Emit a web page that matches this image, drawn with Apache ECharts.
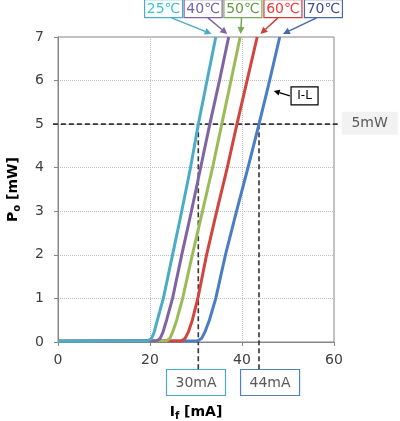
<!DOCTYPE html>
<html>
<head>
<meta charset="utf-8">
<script src="https://cdn.jsdelivr.net/npm/echarts@6/dist/echarts.min.js"></script>
<style>
  html, body { margin: 0; padding: 0; background: #fff; }
  #chart { width: 400px; height: 421px; }
</style>
</head>
<body>
<div id="chart"></div>
<script>
// I-L curves: If [mA] -> Po [mW], one per case temperature
const curve25 = [[0, 0.02], [19.6, 0.03], [20.3, 0.08], [20.9, 0.22], [21.6, 0.5], [22.9, 1], [24.9, 2], [26.9, 3], [28.8, 4], [30.5, 5], [32.4, 6], [34.3, 7]]
const curve40 = [[0, 0.02], [21.5, 0.03], [22.2, 0.08], [22.8, 0.22], [23.6, 0.5], [24.9, 1], [26.9, 2], [29.0, 3], [31.0, 4], [33.0, 5], [35.1, 6], [37.1, 7]]
const curve50 = [[0, 0.02], [23.6, 0.03], [24.3, 0.08], [24.9, 0.22], [25.8, 0.5], [27.1, 1], [29.2, 2], [31.4, 3], [33.6, 4], [35.6, 5], [37.6, 6], [39.6, 7]]
const curve60 = [[0, 0.02], [26.9, 0.03], [27.6, 0.08], [28.3, 0.22], [29.2, 0.5], [30.4, 1], [32.3, 2], [34.5, 3], [36.8, 4], [38.9, 5], [41.1, 6], [43.3, 7]]
const curve70 = [[0, 0.02], [30.4, 0.03], [31.2, 0.08], [31.9, 0.22], [32.9, 0.5], [34.3, 1], [36.4, 2], [38.8, 3], [41.3, 4], [43.7, 5], [46.0, 6], [48.2, 7]]

const temps = ['25℃', '40℃', '50℃', '60℃', '70℃']
const curves = [curve25, curve40, curve50, curve60, curve70]
const lineColors = ['#4bacc6', '#8064a2', '#9bbb59', '#d2453f', '#4a7dc4']
const tagTextColors = ['#3cc3c8', '#7463a0', '#5f9b45', '#e83a3a', '#3d4a9a']
const tagBorderColors = ['#4bacc6', '#8064a2', '#79a856', '#c9403c', '#4a68b0']

// temperature tags above the plot, and their arrows (data units)
const tagX = [22.95, 31.55, 40.2, 48.9, 57.7]
const tagY = 7.65
const arrowFromX = [24.7, 32.6, 39.9, 47.8, 56.2]
const arrowFromY = 7.44
const arrowToX = [33.4, 36.8, 39.7, 44.0, 48.9]
const arrowToY = 7.07

// 5mW reference
const refPower = 5
const refPowerLine = [-1.1, 60.8]
const refPowerTag = [67.75, 5.02]
const refCurrents = [30.5, 43.7]
const refCurrentTags = ['30mA', '44mA']
const refCurrentTagX = [30.0, 46.1]
const refCurrentTagColors = ['#4bacc6', '#4f81bd']
const refTagY = -0.93
const refLineBottom = -0.63

// I-L callout
const ilTag = [53.6, 5.65]
const ilArrowFrom = [50.4, 5.65]
const ilArrowTo = [46.9, 5.76]

const font = 'DejaVu Sans'
const axisColor = '#868686'

const chart = echarts.init(document.getElementById('chart'))

const series = []
for (let i = curves.length - 1; i >= 0; i--) {
  series.push({
    name: temps[i],
    type: 'line',
    data: curves[i],
    showSymbol: false,
    smooth: false,
    lineStyle: { color: lineColors[i], width: 3, join: 'round' },
    itemStyle: { color: lineColors[i] },
    z: 3
  })
}

const nameRich = {
  b: { fontSize: 14, fontWeight: 'bold', fontFamily: font, color: '#000', lineHeight: 18 },
  s: { fontSize: 10, fontWeight: 'bold', fontFamily: font, color: '#000', lineHeight: 12, verticalAlign: 'bottom' }
}

chart.setOption({
  animation: false,
  grid: {
    left: 58, right: 66, top: 37, bottom: 79,
    outerBoundsMode: 'none',
    containLabel: false,
    show: true, borderColor: axisColor, borderWidth: 1
  },
  xAxis: {
    type: 'value', min: 0, max: 60, interval: 20,
    name: '{b|I}{s|f}{b| [mA]}',
    nameLocation: 'middle', nameGap: 61,
    nameTextStyle: { rich: nameRich },
    axisLine: { lineStyle: { color: axisColor } },
    axisTick: { show: true, length: 4, lineStyle: { color: axisColor } },
    axisLabel: { fontSize: 14, color: '#404040', margin: 11, fontFamily: font },
    splitLine: { show: true, lineStyle: { color: '#bfbfbf', type: 'dotted' } }
  },
  yAxis: {
    type: 'value', min: 0, max: 7, interval: 1,
    name: '{b|P}{s|o}{b| [mW]}',
    nameLocation: 'middle', nameGap: 36,
    nameTextStyle: { rich: nameRich },
    axisLine: { show: true, lineStyle: { color: axisColor } },
    axisTick: { show: true, length: 4, lineStyle: { color: axisColor } },
    axisLabel: { fontSize: 14, color: '#404040', margin: 14, fontFamily: font },
    splitLine: { show: true, lineStyle: { color: '#bfbfbf', type: 'dotted' } }
  },
  series: series
})

// annotations placed through the chart's own scales
const px = (x, y) => chart.convertToPixel({ gridIndex: 0 }, [x, y])

function arrow(from, to, color, width, head) {
  const a = px(from[0], from[1])
  const b = px(to[0], to[1])
  const dx = b[0] - a[0], dy = b[1] - a[1]
  const len = Math.sqrt(dx * dx + dy * dy)
  const ux = dx / len, uy = dy / len
  const bx = b[0] - ux * head, by = b[1] - uy * head
  const w = head * 0.5
  return [
    { type: 'line', z: 20, shape: { x1: a[0], y1: a[1], x2: bx, y2: by }, style: { stroke: color, lineWidth: width } },
    { type: 'polygon', z: 20, shape: { points: [[b[0], b[1]], [bx - uy * w, by + ux * w], [bx + uy * w, by - ux * w]] }, style: { fill: color } }
  ]
}

function tag(center, text, w, h, opts) {
  const c = px(center[0], center[1])
  return [
    {
      type: 'rect', z: 20,
      shape: { x: c[0] - w / 2, y: c[1] - h / 2, width: w, height: h },
      style: { fill: opts.fill || '#fff', stroke: opts.stroke || null, lineWidth: opts.stroke ? 1.2 : 0 }
    },
    {
      type: 'text', z: 21, x: c[0], y: c[1] + 0.5,
      style: { text: text, fill: opts.color, fontSize: opts.size || 14, fontFamily: font, align: 'center', verticalAlign: 'middle' }
    }
  ]
}

function dashed(from, to) {
  const a = px(from[0], from[1])
  const b = px(to[0], to[1])
  return { type: 'line', z: 2, shape: { x1: a[0], y1: a[1], x2: b[0], y2: b[1] }, style: { stroke: '#333', lineWidth: 1.6, lineDash: [5, 3] } }
}

const graphics = []
graphics.push(dashed([refPowerLine[0], refPower], [refPowerLine[1], refPower]))
refCurrents.forEach((c, i) => {
  graphics.push(dashed([c, refPower], [c, refLineBottom]))
  graphics.push(...tag([refCurrentTagX[i], refTagY], refCurrentTags[i], 59, 26, { stroke: refCurrentTagColors[i], color: '#595959' }))
})
graphics.push(...tag(refPowerTag, '5mW', 56, 23, { fill: '#f2f2f2', color: '#595959' }))
graphics.push(...tag(ilTag, 'I-L', 27, 18, { stroke: '#000', color: '#000', size: 12 }))
graphics.push(...arrow(ilArrowFrom, ilArrowTo, '#000', 1.3, 6))
temps.forEach((t, i) => {
  graphics.push(...arrow([arrowFromX[i], arrowFromY], [arrowToX[i], arrowToY], tagBorderColors[i], 1.5, 7))
  graphics.push(...tag([tagX[i], tagY], t, 38, 18, { stroke: tagBorderColors[i], color: tagTextColors[i] }))
})

chart.setOption({ graphic: graphics })
</script>
</body>
</html>
